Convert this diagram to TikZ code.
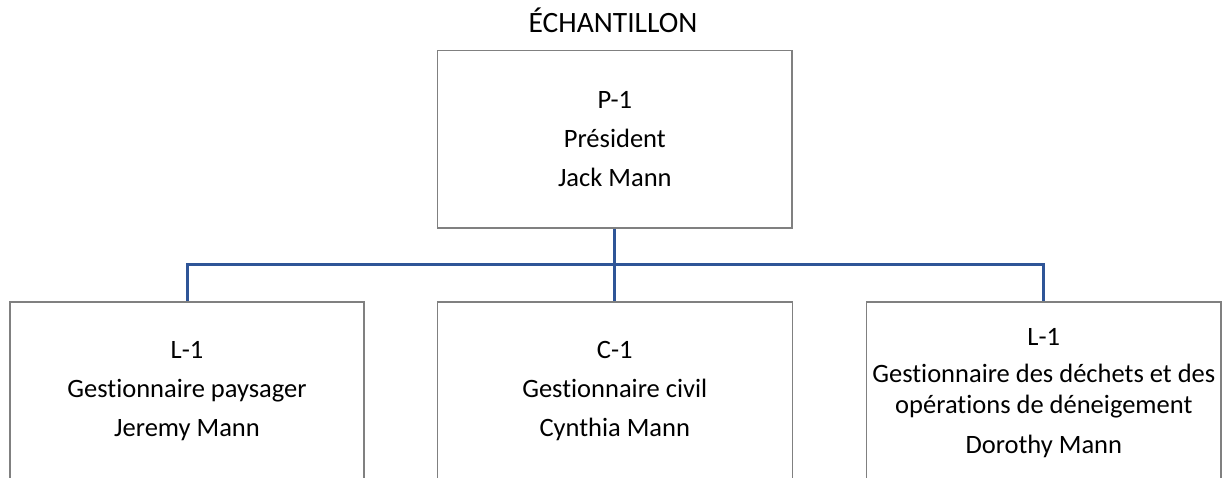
\documentclass[tikz,border=0pt]{standalone}
\usepackage{fontspec}
\setmainfont{Carlito}[Ligatures=NoCommon]
\definecolor{boxgray}{RGB}{128,128,128}
\definecolor{connblue}{RGB}{47,85,151}
\tikzset{
  orgbox/.style={draw=boxgray, line width=1.5pt, fill=white, inner sep=0pt},
  conn/.style={draw=connblue, line width=3pt},
  txt/.style={anchor=base, inner sep=0pt, font=\fontsize{26.5}{31}\selectfont},
  ttl/.style={anchor=base, inner sep=0pt, font=\fontsize{29.5}{35}\selectfont}
}
\begin{document}
\begin{tikzpicture}[x=1pt,y=-1pt]
\useasboundingbox (0,0) rectangle (1232,477);
% boxes
\node[orgbox, minimum width=354.7pt, minimum height=177.3pt] (top) at (614.8,139.35) {};
\node[orgbox, minimum width=354pt, minimum height=190pt] (left) at (187,397) {};
\node[orgbox, minimum width=355pt, minimum height=190pt] (mid) at (614.8,397) {};
\node[orgbox, minimum width=354.3pt, minimum height=190pt] (right) at (1043.8,397) {};
% connectors
\coordinate (bus) at (614.8,264.5);
\draw[conn] (top.south) -- (mid.north);
\draw[conn] (left.north) -- (left.north |- bus) -- (right.north |- bus) -- (right.north);
% title
\node[ttl] (title) at (613,32) {ÉCHANTILLON};
% top box text
\node[txt] (t1) at (614.8,108.3) {P-1};
\node[txt] (t2) at (614.8,147.3) {Président};
\node[txt] (t3) at (614.8,186.7) {Jack Mann};
% left box text
\node[txt] (l1) at (187,358.3) {L-1};
\node[txt] (l2) at (187,397.7) {Gestionnaire paysager};
\node[txt] (l3) at (187,436.7) {Jeremy Mann};
% middle box text
\node[txt] (m1) at (614.8,358.3) {C-1};
\node[txt] (m2) at (614.8,397.7) {Gestionnaire civil};
\node[txt] (m3) at (614.8,436.7) {Cynthia Mann};
% right box text
\node[txt] (r1) at (1043.8,345) {L-1};
\node[txt] (r2) at (1043.8,382.7) {Gestionnaire des déchets et des};
\node[txt] (r3) at (1043.8,413.3) {opérations de déneigement};
\node[txt] (r4) at (1043.8,453.3) {Dorothy Mann};
\end{tikzpicture}
\end{document}
